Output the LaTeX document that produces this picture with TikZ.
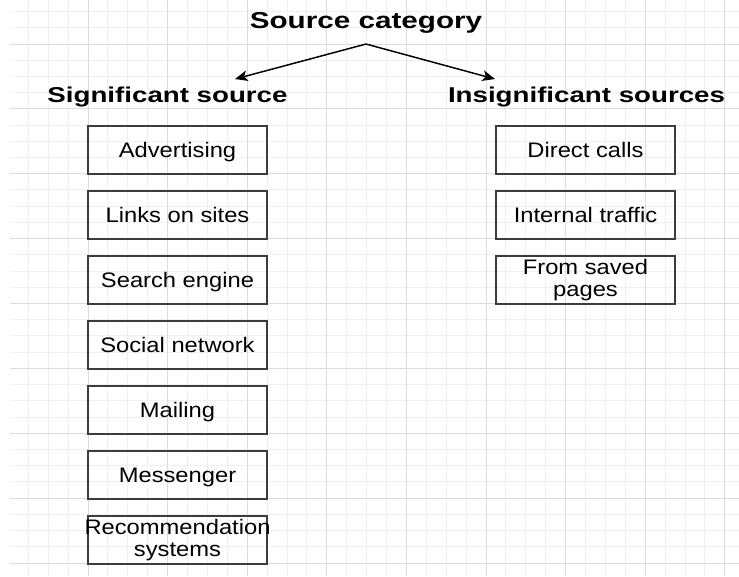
\documentclass[tikz,border=0pt]{standalone}
\usepackage{fontspec}
\usepackage{xcolor}
\usetikzlibrary{arrows.meta}
\setmainfont{Liberation Sans}[FakeStretch=1.13]
\newfontfamily\headfont{Liberation Sans}[FakeStretch=1.29]
\definecolor{minorgrid}{RGB}{240,240,240}
\definecolor{majorgrid}{RGB}{220,220,220}
\definecolor{boxline}{RGB}{60,60,60}
\tikzstyle{source}=[draw=boxline, line width=1.5pt, minimum width=134.25pt, minimum height=36pt, inner sep=0pt, font=\fontsize{15.75}{16}\selectfont]
\tikzset{oneline/.style={text height=11.28pt, text depth=0pt}}
\tikzset{twoline/.style={align=center}}
\tikzstyle{heading}=[anchor=base, inner sep=0pt, text height=11.75pt, text depth=3.38pt, outer ysep=5.7pt, font=\headfont\bfseries\fontsize{16.1}{18}\selectfont]
\tikzstyle{title}=[anchor=base, inner sep=0pt, text depth=3.6pt, outer ysep=8.2pt, font=\headfont\bfseries\fontsize{17.25}{19}\selectfont]
\tikzstyle{link}=[-{Stealth[length=9.5pt,width=8pt,inset=2.4pt]}, line width=1.1pt]
\tikzset{minorline/.style={draw=minorgrid, line width=0.75pt}}
\tikzset{majorline/.style={draw=majorgrid, line width=0.75pt}}

\begin{document}
\begin{tikzpicture}[x=0.75pt,y=-0.75pt]
  \useasboundingbox (0,0) rectangle (739,576);
  \fill[white] (0,0) rectangle (739,576);

  %% Grid paper
  \foreach \k in {-3,...,32} \draw[minorline] ({88+19.9*\k},0) -- ({88+19.9*\k},576);
  \foreach \k in {-2,...,32} \draw[minorline] (9.5,{44+16.22*\k}) -- (739,{44+16.22*\k});
  \foreach \k in {0,...,8} \draw[majorline] ({88+79.6*\k},0) -- ({88+79.6*\k},576);
  \foreach \k in {0,...,8} \draw[majorline] (9.5,{44+64.875*\k}) -- (739,{44+64.875*\k});

  %% Headings
  \draw (366,28.3) node[title] (cat) {Source category};
  \draw (167.5,102.3) node[heading] (sig) {Significant source};
  \draw (586.5,102.3) node[heading] (ins) {Insignificant sources};

  \draw[link] (cat.south) -- ([xshift=50.6pt]sig.north);
  \draw[link] (cat.south) -- ([xshift=-68.6pt]ins.north);

  %% Significant sources
  \draw (177.5,150) node[source,oneline] (S1) {Advertising};
  \draw (177.5,215) node[source,oneline] (S2) {Links on sites};
  \draw (177.5,280) node[source,oneline] (S3) {Search engine};
  \draw (177.5,345) node[source,oneline] (S4) {Social network};
  \draw (177.5,410) node[source,oneline] (S5) {Mailing};
  \draw (177.5,475) node[source,oneline] (S6) {Messenger};
  % long first line sticks out of the box
  \draw (177.5,540) node[source,twoline] (S7) {\makebox[0pt][c]{Recommendation}\\systems};

  %% Insignificant sources
  \draw (585.5,150) node[source,oneline] (I1) {Direct calls};
  \draw (585.5,215) node[source,oneline] (I2) {Internal traffic};
  \draw (585.5,280) node[source,twoline] (I3) {From saved\\pages};
\end{tikzpicture}
\end{document}
